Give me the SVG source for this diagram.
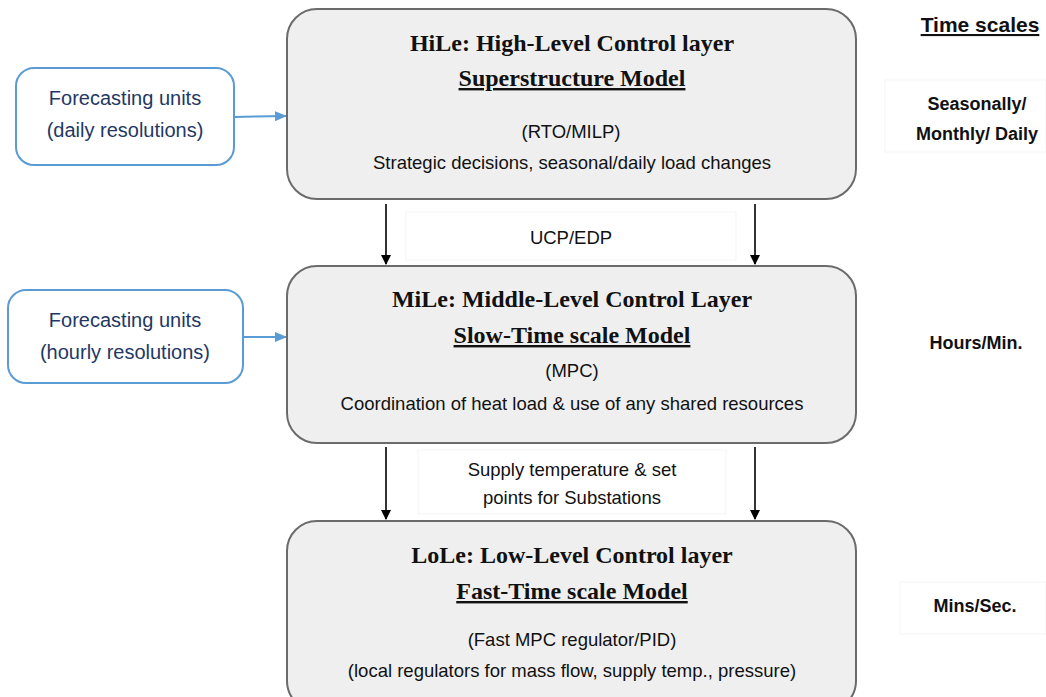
<svg xmlns="http://www.w3.org/2000/svg" width="1046" height="697" viewBox="0 0 1046 697">
  <defs>
    <marker id="arrBlack" markerWidth="10" markerHeight="10" refX="9" refY="5" orient="auto" markerUnits="userSpaceOnUse">
      <path d="M0,0 L10,5 L0,10 Z" fill="#000"/>
    </marker>
    <marker id="arrBlue" markerWidth="12" markerHeight="10" refX="11" refY="5" orient="auto" markerUnits="userSpaceOnUse">
      <path d="M0,0 L12,5 L0,10 Z" fill="#5b9bd5"/>
    </marker>
  </defs>
  <style>
    .layer { fill: #efefef; stroke: #6b6b6b; stroke-width: 2; }
    .fc { fill: #ffffff; stroke: #5b9bd5; stroke-width: 2; }
    .title { font-family: "Liberation Serif", serif; font-weight: bold; font-size: 24px; fill: #111; text-anchor: middle; }
    .body { font-family: "Liberation Sans", Arial, sans-serif; font-size: 18.5px; fill: #111; text-anchor: middle; }
    .fct { font-family: "Liberation Sans", Arial, sans-serif; font-size: 20px; fill: #1f3864; text-anchor: middle; }
    .ts { font-family: "Liberation Sans", Arial, sans-serif; font-weight: bold; font-size: 18px; fill: #111; text-anchor: middle; }
    .u { text-decoration: underline; }
    .faint { fill: #ffffff; stroke: #f5f5f5; stroke-width: 1; }
    .conn { stroke: #000; stroke-width: 1.6; fill: none; marker-end: url(#arrBlack); }
    .connb { stroke: #5b9bd5; stroke-width: 2; fill: none; marker-end: url(#arrBlue); }
  </style>

  <rect width="1046" height="697" fill="#ffffff"/>

  <!-- time-scale column -->
  <g id="timescales">
    <text class="ts u" x="980" y="32" style="font-size:21px">Time scales</text>
    <rect class="faint" x="885" y="80" width="161" height="72"/>
    <text class="ts" x="977" y="110">Seasonally/</text>
    <text class="ts" x="977" y="140">Monthly/ Daily</text>
    <text class="ts" x="976" y="349">Hours/Min.</text>
    <rect class="faint" x="900" y="582" width="146" height="52"/>
    <text class="ts" x="975" y="612">Mins/Sec.</text>
  </g>

  <!-- connectors -->
  <g id="connectors">
    <line class="conn" x1="386" y1="204" x2="386" y2="264"/>
    <line class="conn" x1="755" y1="204" x2="755" y2="264"/>
    <line class="conn" x1="386" y1="447" x2="386" y2="519"/>
    <line class="conn" x1="755" y1="447" x2="755" y2="519"/>
    <line class="connb" x1="234" y1="117" x2="286" y2="116"/>
    <line class="connb" x1="243" y1="337" x2="286" y2="337"/>
    <rect class="faint" x="406" y="212" width="330" height="48"/>
    <text class="body" x="571" y="244">UCP/EDP</text>
    <rect class="faint" x="418" y="450" width="308" height="64"/>
    <text class="body" x="572" y="476">Supply temperature &amp; set</text>
    <text class="body" x="572" y="504">points for Substations</text>
  </g>

  <!-- forecasting inputs -->
  <g id="fc-daily">
    <rect class="fc" x="16" y="68" width="218" height="97" rx="18"/>
    <text class="fct" x="125" y="105">Forecasting units</text>
    <text class="fct" x="125" y="137">(daily resolutions)</text>
  </g>
  <g id="fc-hourly">
    <rect class="fc" x="8" y="290" width="235" height="93" rx="18"/>
    <text class="fct" x="125" y="327">Forecasting units</text>
    <text class="fct" x="125" y="359">(hourly resolutions)</text>
  </g>

  <!-- control layers -->
  <g id="hile">
    <rect class="layer" x="287" y="9" width="569" height="190" rx="30"/>
    <text class="title" x="572" y="51">HiLe: High-Level Control layer</text>
    <text class="title u" x="572" y="86">Superstructure Model</text>
    <text class="body" x="571" y="138">(RTO/MILP)</text>
    <text class="body" x="572" y="169">Strategic decisions, seasonal/daily load changes</text>
  </g>
  <g id="mile">
    <rect class="layer" x="287" y="266" width="569" height="177" rx="30"/>
    <text class="title" x="572" y="307">MiLe: Middle-Level Control Layer</text>
    <text class="title u" x="572" y="343"> Slow-Time scale Model</text>
    <text class="body" x="572" y="377">(MPC)</text>
    <text class="body" x="572" y="410">Coordination of heat load &amp; use of any shared resources</text>
  </g>
  <g id="lole">
    <rect class="layer" x="287" y="521" width="569" height="190" rx="30"/>
    <text class="title" x="572" y="563">LoLe: Low-Level Control layer</text>
    <text class="title u" x="572" y="599">Fast-Time scale Model</text>
    <text class="body" x="572" y="646">(Fast MPC regulator/PID)</text>
    <text class="body" x="572" y="677">(local regulators for mass flow, supply temp., pressure)</text>
  </g>
</svg>
